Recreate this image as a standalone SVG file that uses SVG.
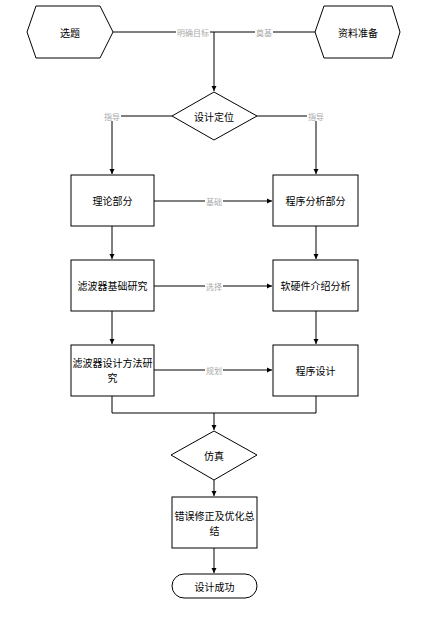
<svg xmlns="http://www.w3.org/2000/svg" width="437" height="617" viewBox="0 0 437 617">
<style>
.s{fill:#fff;stroke:#000;stroke-width:1}
.t{font-family:"Noto Sans CJK SC","Liberation Sans",sans-serif;font-size:10px;fill:#000;text-anchor:middle;dominant-baseline:central}
.l{font-family:"Noto Sans CJK SC","Liberation Sans",sans-serif;font-size:8px;fill:#aaa;text-anchor:middle;dominant-baseline:central}
.c{fill:none;stroke:#000;stroke-width:1}
.bg{fill:#fff}
</style>
<defs>
<marker id="a" markerWidth="6" markerHeight="6" refX="5" refY="3" orient="auto" markerUnits="userSpaceOnUse">
<path d="M0,0.5 L5,3 L0,5.5 Z" fill="#000"/>
</marker>
</defs>
<g id="connectors">
<path class="c" d="M113,32 H315"/>
<path class="c" d="M214,32 V91" marker-end="url(#a)"/>
<path class="c" d="M172,116 H112 V174" marker-end="url(#a)"/>
<path class="c" d="M257,116 H316 V174" marker-end="url(#a)"/>
<path class="c" d="M154,201 H272" marker-end="url(#a)"/>
<path class="c" d="M112,226 V259" marker-end="url(#a)"/>
<path class="c" d="M316,226 V259" marker-end="url(#a)"/>
<path class="c" d="M154,286 H272" marker-end="url(#a)"/>
<path class="c" d="M112,311 V344" marker-end="url(#a)"/>
<path class="c" d="M316,311 V344" marker-end="url(#a)"/>
<path class="c" d="M154,370 H272" marker-end="url(#a)"/>
<path class="c" d="M112,396 V413 H316 V396"/>
<path class="c" d="M214,413 V430" marker-end="url(#a)"/>
<path class="c" d="M214,480 V496" marker-end="url(#a)"/>
<path class="c" d="M214,548 V573" marker-end="url(#a)"/>
<rect class="bg" x="176" y="27" width="34" height="10"/>
<text class="l" x="193" y="32">明确目标</text>
<rect class="bg" x="255" y="27" width="18" height="10"/>
<text class="l" x="264" y="32">奠基</text>
<rect class="bg" x="103" y="111" width="18" height="10"/>
<text class="l" x="112" y="116">指导</text>
<rect class="bg" x="307" y="111" width="18" height="10"/>
<text class="l" x="316" y="116">指导</text>
<rect class="bg" x="205" y="196" width="18" height="10"/>
<text class="l" x="214" y="201">基础</text>
<rect class="bg" x="205" y="281" width="18" height="10"/>
<text class="l" x="214" y="286">选择</text>
<rect class="bg" x="205" y="365" width="18" height="10"/>
<text class="l" x="214" y="370">规划</text>
</g>
<g id="n1"><path class="s" d="M27,32 L36,6 H100 L113,32 L100,58 H36 Z"/><text class="t" x="70" y="32">选题</text></g>
<g id="n2"><path class="s" d="M315,32 L324,6 H392 L400,32 L392,58 H324 Z"/><text class="t" x="358" y="32">资料准备</text></g>
<g id="n3"><path class="s" d="M214,92 L257,116 L214,140 L172,116 Z"/><text class="t" x="214" y="116">设计定位</text></g>
<g id="n4"><rect class="s" x="71" y="175" width="83" height="51"/><text class="t" x="112.5" y="200.5">理论部分</text></g>
<g id="n5"><rect class="s" x="273" y="175" width="85" height="51"/><text class="t" x="315.5" y="200.5">程序分析部分</text></g>
<g id="n6"><rect class="s" x="71" y="260" width="83" height="51"/><text class="t" x="112.5" y="285.5">滤波器基础研究</text></g>
<g id="n7"><rect class="s" x="273" y="260" width="85" height="51"/><text class="t" x="315.5" y="285.5">软硬件介绍分析</text></g>
<g id="n8"><rect class="s" x="71" y="345" width="83" height="51"/><text class="t" x="112.5" y="362.5">滤波器设计方法研</text><text class="t" x="112.5" y="377.5">究</text></g>
<g id="n9"><rect class="s" x="273" y="345" width="85" height="51"/><text class="t" x="315.5" y="370">程序设计</text></g>
<g id="n10"><path class="s" d="M214,431 L257,455 L214,480 L171,455 Z"/><text class="t" x="214" y="455">仿真</text></g>
<g id="n11"><rect class="s" x="172" y="497" width="85" height="51"/><text class="t" x="214.5" y="515.5">错误修正及优化总</text><text class="t" x="214.5" y="530.5">结</text></g>
<g id="n12"><rect class="s" x="172" y="574" width="85" height="24" rx="12" ry="12"/><text class="t" x="214.5" y="586">设计成功</text></g>
</svg>
